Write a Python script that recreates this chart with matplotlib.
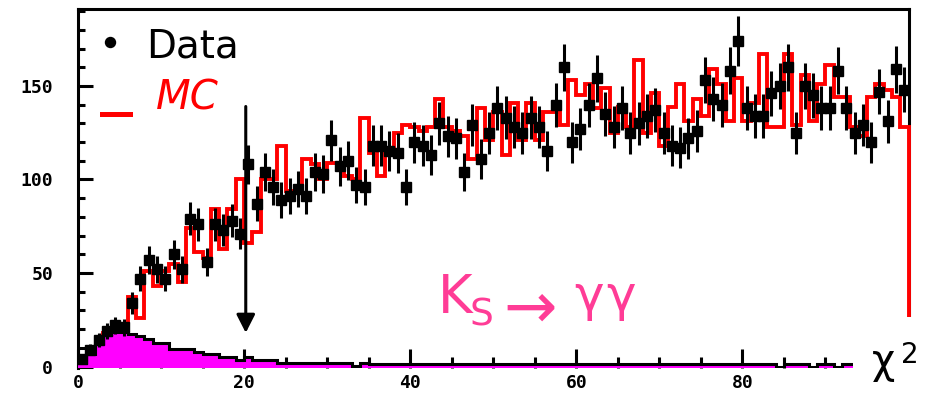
import numpy as np
import matplotlib
matplotlib.use("Agg")
import matplotlib.pyplot as plt
from matplotlib.lines import Line2D
from matplotlib.patches import Rectangle
from matplotlib.ticker import MultipleLocator

# ---------------- data ----------------
bin_edges = np.arange(0, 101, 1)          # chi2 bins, width 1, 0..100

data_counts = [4, 9, 14, 19, 22, 21, 34, 47, 57, 52,
               47, 60, 52, 79, 76, 56, 76, 73, 78, 71,
               108, 87, 104, 96, 89, 91, 95, 91, 104, 103,
               121, 107, 110, 97, 96, 118, 118, 115, 114, 96,
               120, 118, 113, 130, 123, 122, 104, 129, 111, 125,
               138, 133, 128, 125, 133, 128, 115, 140, 160, 120,
               127, 140, 154, 135, 128, 138, 125, 130, 134, 137,
               125, 118, 117, 122, 126, 153, 143, 140, 158, 174,
               138, 134, 134, 146, 150, 160, 125, 150, 145, 138,
               138, 158, 138, 125, 129, 120, 147, 131, 159, 148]

mc_first_bin = 3
mc_counts = [18, 20, 20, 37, 26, 51, 43, 51, 55, 45,
             74, 61, 58, 84, 63, 84, 100, 66, 72, 100,
             100, 118, 94, 94, 111, 108, 100, 109, 109, 102,
             100, 133, 114, 102, 114, 125, 129, 128, 126, 128,
             143, 128, 126, 123, 111, 138, 121, 136, 113, 141,
             121, 141, 121, 136, 136, 129, 153, 145, 151, 138,
             149, 125, 139, 128, 164, 125, 146, 118, 139, 151,
             131, 143, 134, 159, 151, 131, 154, 131, 141, 167,
             128, 128, 167, 129, 156, 131, 151, 161, 144, 144,
             128, 123, 144, 151, 148, 144, 128]

ks_gg_counts = [2, 6.5, 15, 16.7, 18.5, 18.5, 17.6, 16.3, 14.9, 12.5,
                12.5, 9.5, 9.5, 9.5, 7.6, 6.5, 6.5, 5, 5, 3.5,
                5, 3.5, 3.5, 3.5, 1.8, 1.8, 1.8, 1.8, 1.8, 1.8,
                1.8, 1.8, 1.8, 0.3, 1.8, 1.4, 1.4, 1.4, 1.4, 1.4,
                1.4, 1.4, 1.4, 1.4, 1.4, 1.4, 1.4, 1.4, 1.4, 1.4,
                1.4, 1.4, 1.4, 1.4, 1.4, 1.4, 1.4, 1.4, 1.4, 1.4,
                1.4, 1.4, 1.4, 1.4, 1.4, 1.4, 1.4, 1.4, 1.4, 1.4,
                1.4, 1.4, 1.4, 1.4, 1.4, 1.4, 1.4, 1.4, 1.4, 1.4,
                1.4, 1.4, 1.4, 1.4, 0, 1.4, 1.4, 1.4, 0, 1.4,
                1.4, 0, 1.4, 1.4, 1.4, 1.4, 1.4, 1.4, 1.4, 1.4]

cut_value = 20.2
arrow_top, arrow_tip = 139, 18

x_ticks = [0, 20, 40, 60, 80]
y_ticks = [0, 50, 100, 150]

# ---------------- figure ----------------
W, H = 925, 393
def fx(px):
    return px / W
def fy(py):
    return 1 - py / H

fig = plt.figure(figsize=(W / 100, H / 100), dpi=100)
ax = fig.add_axes([fx(78), fy(368), (908.5 - 78) / W, (368 - 8.5) / H])

edges = np.asarray(bin_edges, dtype=float)
centers = 0.5 * (edges[:-1] + edges[1:])
data = np.asarray(data_counts, dtype=float)
FILL_BASE = -0.8

# MC histogram (red)
ax.stairs(mc_counts, edges[mc_first_bin:], baseline=0, color="#ff0000",
          lw=2.8, zorder=2.6, clip_on=False)

# Ks -> gamma gamma background (magenta filled)
ax.stairs(ks_gg_counts, edges, baseline=FILL_BASE, fill=True,
          color="#ff00ff", lw=0, zorder=3)
ax.stairs(ks_gg_counts, edges, baseline=None, color="black", lw=2.2, zorder=3.1)

# data points
ax.errorbar(centers, data, yerr=np.sqrt(data), fmt="s", ms=6.5, color="black",
            ecolor="black", elinewidth=2.2, capsize=0, zorder=4)

# cut arrow
ax.annotate("", xy=(cut_value, arrow_tip), xytext=(cut_value, arrow_top),
            arrowprops=dict(arrowstyle="-|>,head_length=0.55,head_width=0.28",
                            lw=2.2, color="black", mutation_scale=20,
                            shrinkA=0, shrinkB=0), zorder=5)

ax.set_xlim(0, 100)
ax.set_ylim(FILL_BASE, 191.4)

for s in ["top", "left", "right"]:
    ax.spines[s].set_linewidth(2.2)
ax.spines["bottom"].set_visible(False)

ax.set_xticks(x_ticks)
ax.set_yticks(y_ticks)
ax.xaxis.set_minor_locator(MultipleLocator(5))
ax.yaxis.set_minor_locator(MultipleLocator(10))
ax.tick_params(axis="y", which="major", direction="in", length=11, width=2.2,
               pad=18, labelsize=13)
ax.tick_params(axis="y", which="minor", direction="in", length=5, width=2.2)
ax.tick_params(axis="x", which="major", direction="in", length=14, width=2.2,
               pad=4, labelsize=13)
ax.tick_params(axis="x", which="minor", direction="in", length=8, width=2.2)
for lab in ax.get_xticklabels() + ax.get_yticklabels():
    lab.set_family("DejaVu Sans Mono")
    lab.set_weight("bold")

# legend-like annotations
fig.add_artist(Line2D([fx(110)], [fy(42)], marker="o", ms=7.2, color="black",
                      transform=fig.transFigure))
fig.text(fx(146), fy(58), "Data", fontsize=28, color="black",
         ha="left", va="baseline", family="DejaVu Sans")
fig.add_artist(Line2D([fx(102), fx(130)], [fy(114), fy(114)], lw=3.6,
                      color="#ff0000", transform=fig.transFigure))
fig.text(fx(156), fy(110), "MC", fontsize=29, color="#ff0000", style="italic",
         ha="left", va="baseline", family="DejaVu Sans")

pink = "#ff3c96"
fig.text(fx(438), fy(313), "K", fontsize=38, color=pink, ha="left",
         va="baseline", family="DejaVu Sans")
fig.text(fx(470), fy(325), "S", fontsize=27, color=pink, ha="left",
         va="baseline", family="DejaVu Sans")
fig.text(fx(503), fy(328), "\u2192", fontsize=46, color=pink, ha="left",
         va="baseline", family="DejaVu Sans")
fig.text(fx(574), fy(311), "\u03b3", fontsize=36, color=pink, ha="left",
         va="baseline", family="DejaVu Sans")
fig.text(fx(606), fy(311), "\u03b3", fontsize=36, color=pink, ha="left",
         va="baseline", family="DejaVu Sans")

# white box with chi^2 label
fig.add_artist(Rectangle((fx(853), 0), (W - 853) / W, (H - 317) / H,
                         transform=fig.transFigure, facecolor="white",
                         edgecolor="none", zorder=10))
fig.text(fx(872), fy(373), "\u03c7", fontsize=29, color="black", ha="left",
         va="baseline", family="DejaVu Sans", zorder=11)
fig.text(fx(901), fy(363), "2", fontsize=20, color="black", ha="left",
         va="baseline", family="DejaVu Sans", zorder=11)

fig.savefig("out.png", dpi=100)
